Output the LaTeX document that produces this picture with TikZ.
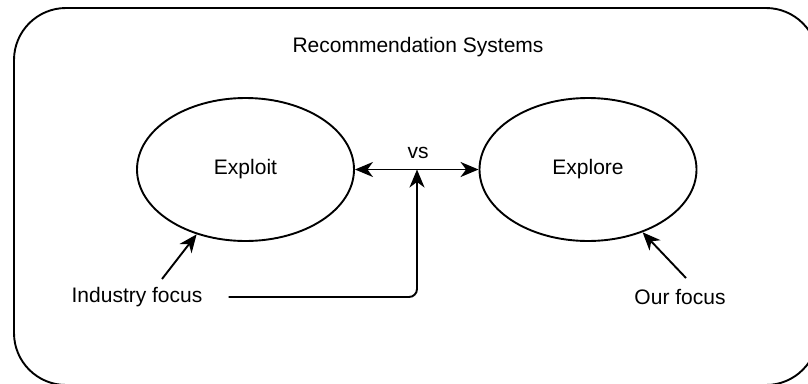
\documentclass[tikz,border=0pt]{standalone}
\usepackage{fontspec}
\setmainfont{Liberation Sans}
\usetikzlibrary{shapes.geometric,arrows.meta}
\begin{document}
\begin{tikzpicture}[x=1pt,y=-1pt,
  every node/.style={font=\fontsize{21}{25}\selectfont},
  tipstyle/.style={>={Stealth[length=18pt,width=15pt,inset=5.5pt]}},
  arr/.style={tipstyle, line width=1.9pt, ->},
  oval/.style={draw, line width=1.9pt, ellipse, minimum width=217pt, minimum height=143pt, inner sep=0pt},
  lbl/.style={inner sep=0pt}]
\useasboundingbox (0,0) rectangle (808,383);
\begin{scope}
\clip (0,0) rectangle (808,383);
\draw[line width=1.9pt, rounded corners=52pt] (14,8) rectangle (818,385);
\end{scope}
\node[lbl] (title) at (418,47) {Recommendation Systems};
\node[oval] (ex) at (245.5,169.5) {Exploit};
\node[oval] (ep) at (588,169.5) {Explore};
\node[lbl] (vs) at (418,153) {vs};
\node[lbl] (ind) at (137,297) {Industry focus};
\node[lbl] (our) at (680,297) {Our focus};
\coordinate (mid) at (417,169.5);
\coordinate (indstart) at (162,279);
\coordinate (ourstart) at (686,278);
\draw[tipstyle, line width=1.9pt, <->] (ex.east) -- (ep.west);
\draw[arr, rounded corners=8pt] (ind.east) ++(26,0) -| (mid);
\draw[arr] (indstart) -- (ex.233);
\draw[arr] (ourstart) -- (ep.311.5);
\end{tikzpicture}
\end{document}
